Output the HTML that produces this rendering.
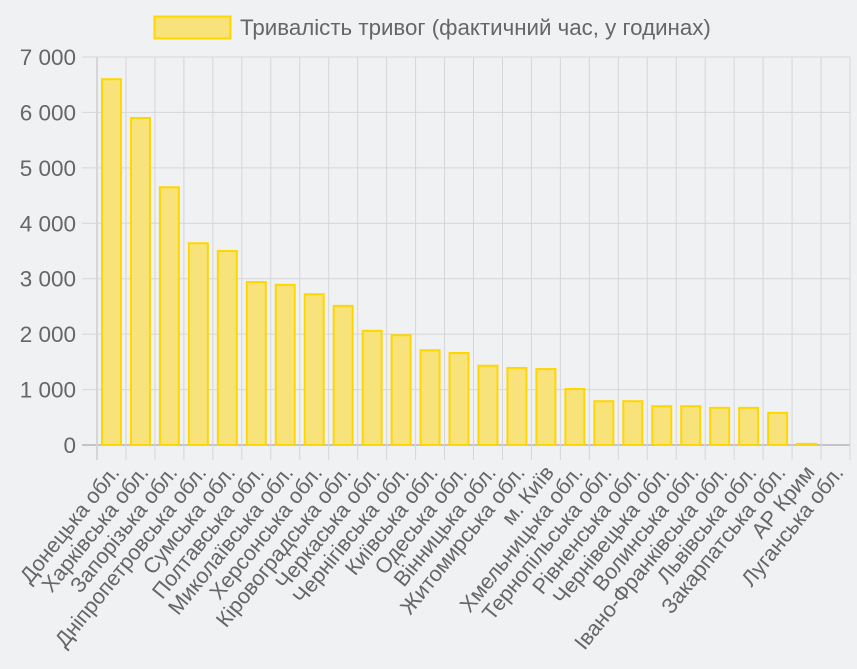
<!DOCTYPE html>
<html><head><meta charset="utf-8"><style>
html,body{margin:0;padding:0;background:#f0f1f3;}
svg{display:block;font-family:"Liberation Sans",sans-serif;}
</style></head><body>
<svg width="857" height="669" viewBox="0 0 857 669" xmlns="http://www.w3.org/2000/svg">
<rect width="857" height="669" fill="#f0f1f3"/>
<rect x="154.5" y="16.5" width="76" height="22" fill="#f8e27a" stroke="#ffd700" stroke-width="2"/>
<text x="240" y="35" font-size="22.3" fill="#666">Тривалість тривог (фактичний час, у годинах)</text>
<g id="g"></g>
</svg>
<script>
const ns="http://www.w3.org/2000/svg",g=document.getElementById('g');
function el(t,a,txt){const e=document.createElementNS(ns,t);for(const k in a)e.setAttribute(k,a[k]);if(txt!==undefined)e.textContent=txt;g.appendChild(e);return e;}
const x0=97,x1=850,y0=445,yt=57,n=26,w=(x1-x0)/n,py=(y0-yt)/7000;
const labels=["Донецька обл.","Харківська обл.","Запорізька обл.","Дніпропетровська обл.","Сумська обл.","Полтавська обл.","Миколаївська обл.","Херсонська обл.","Кіровоградська обл.","Черкаська обл.","Чернігівська обл.","Київська обл.","Одеська обл.","Вінницька обл.","Житомирська обл.","м. Київ","Хмельницька обл.","Тернопільська обл.","Рівненська обл.","Чернівецька обл.","Волинська обл.","Івано-Франківська обл.","Львівська обл.","Закарпатська обл.","АР Крим","Луганська обл."];
const vals=[6600,5900,4650,3640,3500,2940,2890,2720,2510,2060,1980,1710,1660,1430,1390,1370,1010,790,790,700,700,670,670,580,20,0];
for(let i=0;i<=7;i++){const y=y0-i*1000*py;el('line',{x1:82,x2:x1,y1:y,y2:y,stroke:i==0?'#c4c4c4':'#d6d6d8','stroke-width':i==0?2:1});
el('text',{x:76,y:y+8,'font-size':22.5,fill:'#666','text-anchor':'end'},i==0?'0':i+' 000');}
for(let i=0;i<=n;i++){const x=x0+i*w;el('line',{x1:x,x2:x,y1:yt,y2:460,stroke:'#d6d6d8','stroke-width':i==0?2:1});}
vals.forEach((v,i)=>{const c=x0+(i+.5)*w,bw=19,h=v*py;
if(h>0)el('rect',{x:c-bw/2,y:y0-h,width:bw,height:h,fill:'#f8e27a',stroke:'#ffd700','stroke-width':2});
const ax=c+9,ay=473;
el('text',{x:ax,y:ay,'font-size':21.5,fill:'#666','text-anchor':'end',transform:`rotate(-51 ${ax} ${ay})`},labels[i]);});
</script>
</body></html>
